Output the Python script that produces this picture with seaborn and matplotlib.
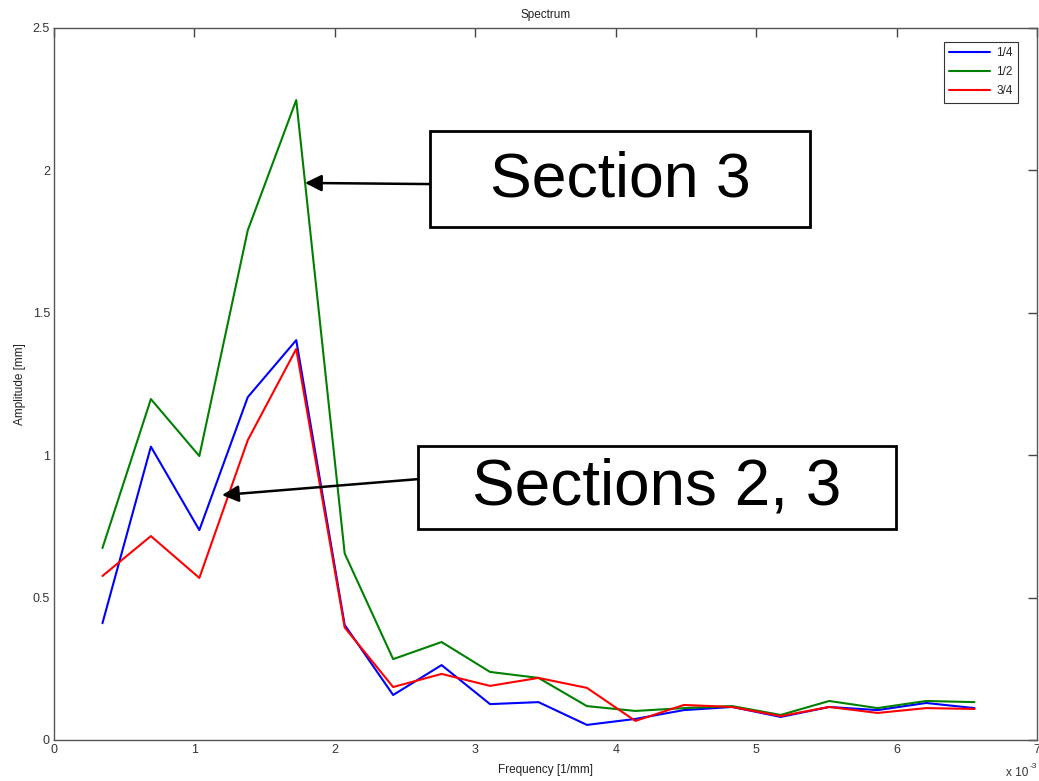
import numpy as np
import pandas as pd
import seaborn as sns
import matplotlib
matplotlib.use("Agg")
import matplotlib.pyplot as plt
from matplotlib.patches import Rectangle

# frequency in units of 1e-3 1/mm
freq = [0.345, 0.69, 1.035, 1.38, 1.725, 2.07, 2.415, 2.76, 3.105, 3.45,
        3.795, 4.14, 4.485, 4.83, 5.175, 5.52, 5.865, 6.21, 6.555]

amp_quarter = [0.41, 1.03, 0.737, 1.204, 1.404, 0.404, 0.158, 0.263, 0.126, 0.133,
               0.053, 0.074, 0.105, 0.116, 0.081, 0.116, 0.105, 0.130, 0.112]
amp_half = [0.674, 1.197, 0.997, 1.79, 2.247, 0.655, 0.284, 0.344, 0.239, 0.218,
            0.119, 0.102, 0.112, 0.119, 0.088, 0.137, 0.112, 0.137, 0.133]
amp_three_quarter = [0.576, 0.716, 0.569, 1.053, 1.373, 0.395, 0.186, 0.232, 0.190, 0.218,
                     0.183, 0.067, 0.123, 0.116, 0.084, 0.116, 0.095, 0.112, 0.109]

labels = ["1/4", "1/2", "3/4"]
colors = ["#0000ff", "#008000", "#ff0000"]

df = pd.concat([
    pd.DataFrame({"freq": freq, "amp": amp_quarter, "pos": labels[0]}),
    pd.DataFrame({"freq": freq, "amp": amp_half, "pos": labels[1]}),
    pd.DataFrame({"freq": freq, "amp": amp_three_quarter, "pos": labels[2]}),
])

sns.set_style("white")
plt.rcParams['font.family'] = ['Liberation Sans', 'DejaVu Sans']

fig = plt.figure(figsize=(10.39, 7.81), dpi=100)
ax = fig.add_axes([54 / 1039, 1 - 740 / 781, (1037 - 54) / 1039, (740 - 28) / 781])

sns.lineplot(data=df, x="freq", y="amp", hue="pos", hue_order=labels,
             palette=colors, linewidth=1.5, ax=ax)

ax.set_xlim(0, 7)
ax.set_ylim(0, 2.5)
ax.set_xticks(range(0, 8))
ax.set_yticks([0, 0.5, 1, 1.5, 2, 2.5])
ax.set_yticklabels(["0", "0.5", "1", "1.5", "2", "2.5"])
ax.tick_params(direction="in", length=6.5, width=1, top=True, right=True,
               labelsize=9, colors="#444444", labelcolor="#333333", pad=3)
for s in ax.spines.values():
    s.set_visible(True)
    s.set_color("#555555")
    s.set_linewidth(1)

ax.set_title("Spectrum", fontsize=8.5, pad=7, color="#222222")
ax.set_xlabel("Frequency [1/mm]", fontsize=8.5, labelpad=6, color="#222222")
ax.set_ylabel("Amplitude [mm]", fontsize=8.5, labelpad=5, color="#222222")
fig.text(1006 / 1039, 1 - 773 / 781, "x 10", fontsize=8.5, color="#333333",
         va="center", ha="left")
fig.text(1030 / 1039, 1 - 766 / 781, "-3", fontsize=6, color="#333333",
         va="center", ha="left")

leg = ax.legend(loc="upper right", bbox_to_anchor=(1018 / 1039, 1 - 42 / 781),
                bbox_transform=fig.transFigure, fontsize=8.5, frameon=True,
                fancybox=False, handlelength=3.5, borderpad=0.45, labelspacing=0.6,
                handletextpad=0.5, borderaxespad=0)
leg.get_frame().set_edgecolor("black")
leg.get_frame().set_linewidth(0.8)

# callout boxes (axes data units)
arrow = dict(arrowstyle="-|>", color="black", lw=1.8, mutation_scale=25,
             shrinkA=0, shrinkB=0)

ax.add_patch(Rectangle((2.677, 1.801), 5.383 - 2.677, 2.138 - 1.801,
                       fc="white", ec="black", lw=2, zorder=5))
ax.text(4.03, 1.966, "Section 3", fontsize=45, color="black",
        ha="center", va="center", zorder=6)
ax.annotate("", xy=(1.787, 1.956), xytext=(2.677, 1.952), arrowprops=arrow, zorder=6)

ax.add_patch(Rectangle((2.592, 0.741), 5.996 - 2.592, 1.032 - 0.741,
                       fc="white", ec="black", lw=2, zorder=5))
ax.text(4.294, 0.885, "Sections 2, 3", fontsize=46, color="black",
        ha="center", va="center", zorder=6)
ax.annotate("", xy=(1.196, 0.86), xytext=(2.592, 0.916), arrowprops=arrow, zorder=6)

fig.savefig("out.png", dpi=100)
